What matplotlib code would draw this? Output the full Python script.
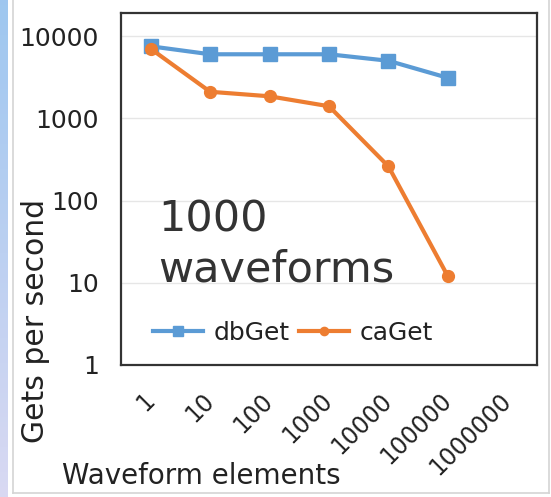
import matplotlib.pyplot as plt
import numpy as np
from matplotlib.lines import Line2D

plt.rcParams['font.family'] = 'sans-serif'
plt.rcParams['font.sans-serif'] = ['DejaVu Sans']

# waveform sizes and measured rates (gets per second)
elements = ["1", "10", "100", "1000", "10000", "100000", "1000000"]
dbget = [7500, 6000, 6000, 6000, 5000, 3100]
caget = [7000, 2100, 1850, 1400, 260, 12]

blue = "#5B9BD5"
orange = "#ED7D31"
ink = "#222222"

W, H = 551, 497
fig = plt.figure(figsize=(W / 100, H / 100), dpi=100)

# pale blue strip down the left edge
strip = fig.add_axes([0, 0, 8 / W, 1])
grad = np.linspace(0, 1, 100).reshape(-1, 1)
top_c = np.array([0.62, 0.78, 0.94])
bot_c = np.array([0.85, 0.85, 0.95])
img = top_c + (bot_c - top_c) * grad[:, :, None]
strip.imshow(img, aspect='auto', extent=[0, 1, 0, 1], origin='upper')
strip.axis('off')

# light grey slide border
border = dict(color="#d4d4d4", lw=1.2, transform=fig.transFigure)
fig.add_artist(Line2D([12.5 / W, 12.5 / W], [1, 1 - 493 / H], **border))
fig.add_artist(Line2D([12.5 / W, 549 / W], [1 - 493 / H, 1 - 493 / H], **border))
fig.add_artist(Line2D([549 / W, 549 / W], [1, 1 - 493 / H], **border))

ax = fig.add_axes([121 / W, 1 - 365 / H, 416 / W, 352 / H])
x = np.arange(len(dbget))
ax.plot(x, dbget, color=blue, lw=3, marker='s', ms=9.5, label='dbGet')
ax.plot(x, caget, color=orange, lw=3, marker='o', ms=8.5, label='caGet')

ax.set_yscale('log')
ax.set_ylim(1, 10 ** 4.28)
ax.set_xlim(-0.5, len(elements) - 0.5)
ax.set_yticks([1, 10, 100, 1000, 10000])
ax.set_yticklabels(["1", "10", "100", "1000", "10000"], fontsize=18, color=ink)
ax.minorticks_off()
ax.yaxis.grid(True, color="#e6e6e6", lw=1)
ax.set_axisbelow(True)
ax.tick_params(axis='y', length=0, pad=16)

ax.set_xticks(range(len(elements)))
ax.set_xticklabels(elements, fontsize=17, color=ink, rotation=45,
                   ha='right', va='center', rotation_mode='anchor')
ax.tick_params(axis='x', length=0, pad=23)

for s in ax.spines.values():
    s.set_color("#333333")
    s.set_linewidth(1.6)

leg = ax.legend(loc='center', bbox_to_anchor=(293 / W, 1 - 333 / H), bbox_transform=fig.transFigure,
                ncol=2, frameon=False, fontsize=18,
                handlelength=2.0, handletextpad=0.4, columnspacing=0.4, markerscale=0.7)
for t in leg.get_texts():
    t.set_color(ink)

ax.text(158 / W, 1 - 232 / H, "1000", transform=fig.transFigure, fontsize=31,
        color="#333333", va='baseline')
ax.text(158 / W, 1 - 282 / H, "waveforms", transform=fig.transFigure, fontsize=31,
        color="#333333", va='baseline')

fig.text(36 / W, 1 - 321 / H, "Gets per second", rotation=90, ha='center', va='center',
         fontsize=21.5, color=ink)
fig.text(201 / W, 1 - 484 / H, "Waveform elements", ha='center', va='baseline',
         fontsize=20, color=ink)

fig.savefig("out.png", dpi=100)
